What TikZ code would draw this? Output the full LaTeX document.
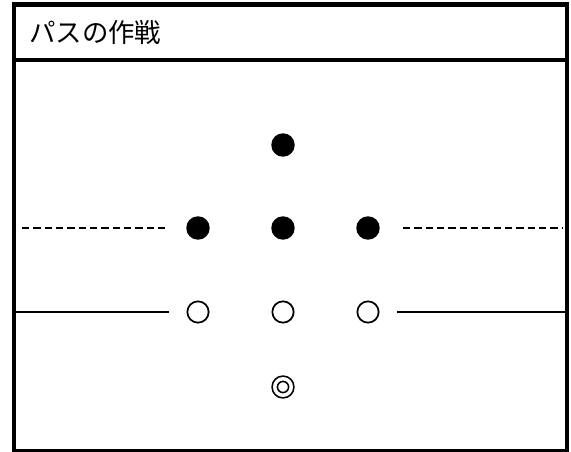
\documentclass[tikz,border=0pt]{standalone}
\usepackage{fontspec}
\newfontfamily\jpfont{Noto Sans CJK JP}
\begin{document}
\begin{tikzpicture}[x=0.75pt,y=-0.75pt,
  frameline/.style={line width=3.3pt},
  offense/.style={circle,fill=black,minimum size=17.6pt,inner sep=0pt},
  defense/.style={circle,draw,line width=1.3pt,minimum size=16pt,inner sep=0pt},
  keeper/.style={circle,draw,line width=1.25pt,double,double distance=2.6pt,minimum size=12.4pt,inner sep=0pt},
  dashline/.style={line width=2.1pt,dash pattern=on 5.5pt off 3pt},
  solidline/.style={line width=2.1pt}
]
\useasboundingbox (0,0) rectangle (571,452);
% frame
\draw[frameline] (14,4.7) rectangle (567,451);
\draw[frameline] (14,60) -- (567,60);
\node[anchor=west,inner sep=0pt] (title) at (29,33) {\jpfont\fontsize{19.8}{20}\selectfont パスの作戦};
% players
\node[offense] (top) at (283,145) {};
\node[offense] (ml) at (198,228) {};
\node[offense] (mc) at (283,228) {};
\node[offense] (mr) at (368,228) {};
\node[defense] (dl) at (198,312) {};
\node[defense] (dc) at (283,312) {};
\node[defense] (dr) at (368,312) {};
\node[keeper] (gk) at (283,387) {};
% lines
\coordinate (dashLa) at (22,228);
\coordinate (dashLb) at (169,228);
\coordinate (dashRa) at (403,228);
\coordinate (dashRb) at (563,228);
\coordinate (solLa) at (16,312);
\coordinate (solLb) at (169,312);
\coordinate (solRa) at (397,312);
\coordinate (solRb) at (565,312);
\draw[dashline] (dashLa) -- (dashLb);
\draw[dashline] (dashRa) -- (dashRb);
\draw[solidline] (solLa) -- (solLb);
\draw[solidline] (solRa) -- (solRb);
\end{tikzpicture}
\end{document}
